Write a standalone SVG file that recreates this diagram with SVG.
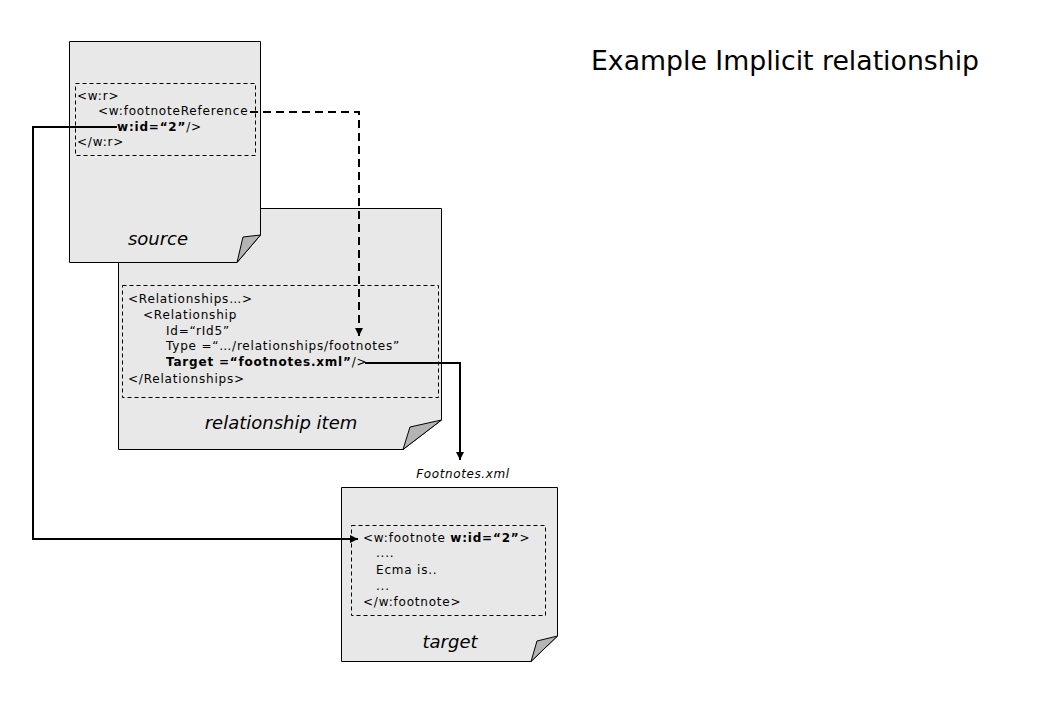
<svg xmlns="http://www.w3.org/2000/svg" width="1040" height="720" viewBox="0 0 1040 720">
<style>
.page{fill:#e8e8e8;stroke:#000;stroke-width:1}
.fold{fill:#b4b4b4;stroke:#000;stroke-width:1}
.box{fill:none;stroke:#000;stroke-width:1;stroke-dasharray:4,3}
.code{font-family:"DejaVu Sans",Verdana,sans-serif;font-size:12px;letter-spacing:0.8px;fill:#000}
.b{font-weight:bold}
.lbl{font-family:"DejaVu Sans",Verdana,sans-serif;font-size:18px;font-style:italic;fill:#000}
.fn{font-family:"DejaVu Sans",Verdana,sans-serif;font-size:12px;letter-spacing:0.6px;font-style:italic;fill:#000}
.title{font-family:"DejaVu Sans",Tahoma,sans-serif;font-size:26px;fill:#000}
.con{fill:none;stroke:#000;stroke-width:2}
.dash{stroke-dasharray:8,5}
</style>
<defs>
<marker id="ah" viewBox="0 0 10 10" refX="10" refY="5" markerWidth="8" markerHeight="8" markerUnits="userSpaceOnUse" orient="auto">
<path d="M0,0 L10,5 L0,10 z" fill="#000"/>
</marker>
</defs>
<rect width="1040" height="720" fill="#fff"/>
<text class="title" x="591" y="70" textLength="388" lengthAdjust="spacingAndGlyphs">Example Implicit relationship</text>

<g id="relationship-item">
<path class="page" d="M118.5,208.5 H441.5 V420 L403,449.5 H118.5 Z"/>
<path class="fold" d="M403,449.5 L410,427 L441.5,420 Z"/>
<rect class="box" x="122.5" y="285.5" width="316" height="112"/>
<text class="code" x="128" y="303">&lt;Relationships…&gt;</text>
<text class="code" x="143" y="319">&lt;Relationship</text>
<text class="code" x="166" y="335">Id=“rId5”</text>
<text class="code" x="166" y="350">Type =“…/relationships/footnotes”</text>
<text class="code" x="166" y="366"><tspan class="b">Target =“footnotes.xml”</tspan>/&gt;</text>
<text class="code" x="128" y="383">&lt;/Relationships&gt;</text>
<text class="lbl" x="281" y="429" text-anchor="middle">relationship item</text>
</g>

<g id="source">
<path class="page" d="M69.5,41.5 H260.5 V235 L237,262.5 H69.5 Z"/>
<path class="fold" d="M237,262.5 L243,237 L260.5,235 Z"/>
<rect class="box" x="75.5" y="83.5" width="180" height="72"/>
<text class="code" x="77" y="100">&lt;w:r&gt;</text>
<text class="code" x="98" y="115">&lt;w:footnoteReference</text>
<text class="code" x="117" y="131"><tspan class="b">w:id=“2”</tspan>/&gt;</text>
<text class="code" x="77" y="146">&lt;/w:r&gt;</text>
<text class="lbl" x="158" y="245" text-anchor="middle">source</text>
</g>

<g id="target">
<text class="fn" x="463" y="478" text-anchor="middle">Footnotes.xml</text>
<path class="page" d="M341.5,487.5 H557.5 V636 L531,661.5 H341.5 Z"/>
<path class="fold" d="M531,661.5 L537,641 L557.5,636 Z"/>
<rect class="box" x="351.5" y="525.5" width="194" height="90"/>
<text class="code" x="363" y="542">&lt;w:footnote <tspan class="b">w:id=“2”</tspan>&gt;</text>
<text class="code" x="376" y="557">....</text>
<text class="code" x="376" y="574">Ecma is..</text>
<text class="code" x="376" y="590">...</text>
<text class="code" x="363" y="606">&lt;/w:footnote&gt;</text>
<text class="lbl" x="450" y="648" text-anchor="middle">target</text>
</g>

<g id="connectors">
<path class="con dash" d="M250,112 H359 V336" marker-end="url(#ah)"/>
<path class="con" d="M365,363 H460 V460" marker-end="url(#ah)"/>
<path class="con" d="M117,127 H33 V539 H358" marker-end="url(#ah)"/>
</g>
</svg>
